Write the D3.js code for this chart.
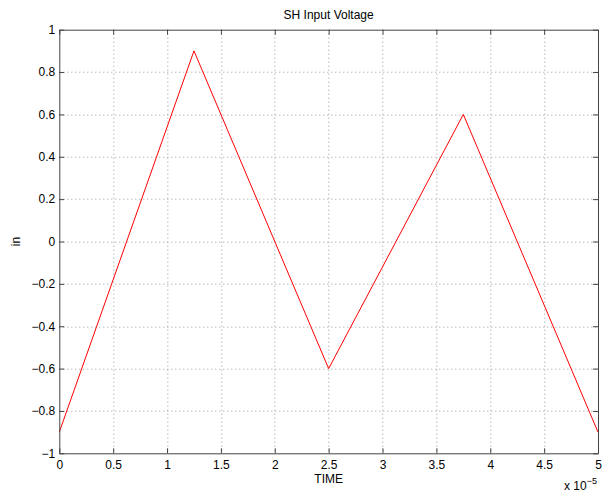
<!DOCTYPE html>
<html>
<head>
<meta charset="utf-8">
<script src="https://cdn.jsdelivr.net/npm/d3@7"></script>
<style>
body { margin: 0; background: #fff; }
text { font-family: "Liberation Sans", Arial, sans-serif; font-size: 12px; fill: #000; }
</style>
</head>
<body>
<div id="chart"></div>
<script>
// sample times (in units of 1e-5 s) and input voltage
var time = [0, 1.25, 2.5, 3.75, 5];
var volts = [-0.9, 0.9, -0.6, 0.6, -0.9];
var xTicks = [0, 0.5, 1, 1.5, 2, 2.5, 3, 3.5, 4, 4.5, 5];
var yTicks = [-1, -0.8, -0.6, -0.4, -0.2, 0, 0.2, 0.4, 0.6, 0.8, 1];

var W = 606, H = 493;
var margin = {top: 29.7, right: 8, bottom: 39.7, left: 59.3},
    width = W - margin.left - margin.right,
    height = H - margin.top - margin.bottom;

var svg = d3.select("#chart").append("svg")
    .attr("width", W)
    .attr("height", H);

var g = svg.append("g")
    .attr("transform", "translate(" + margin.left + "," + margin.top + ")");

var x = d3.scaleLinear().domain([0, 5]).range([0, width]);
var y = d3.scaleLinear().domain([-1, 1]).range([height, 0]);

// grid
g.append("g").selectAll("line")
    .data(xTicks.slice(1, -1))
    .enter().append("line")
    .attr("x1", function(d) { return Math.round(x(d)) + 0.5; })
    .attr("x2", function(d) { return Math.round(x(d)) + 0.5; })
    .attr("y1", 0).attr("y2", height)
    .attr("stroke", "#9a9a9a").attr("stroke-dasharray", "1,3");
g.append("g").selectAll("line")
    .data(yTicks.slice(1, -1))
    .enter().append("line")
    .attr("y1", function(d) { return Math.round(y(d)) + 0.5; })
    .attr("y2", function(d) { return Math.round(y(d)) + 0.5; })
    .attr("x1", 0).attr("x2", width)
    .attr("stroke", "#9a9a9a").attr("stroke-dasharray", "1,3");

// data line
var line = d3.line()
    .x(function(d, i) { return x(time[i]); })
    .y(function(d) { return y(d); });
g.append("path")
    .datum(volts)
    .attr("d", line)
    .attr("fill", "none")
    .attr("stroke", "#ff0000")
    .attr("stroke-width", 1);

function fmt(d) { return d < 0 ? "\u2212" + (-d) : String(d); }

// axes (ticks inward, matlab style)
var ax = d3.axisBottom(x).tickValues(xTicks).tickSizeInner(-5).tickSizeOuter(0).tickPadding(7).tickFormat(fmt);
var ay = d3.axisLeft(y).tickValues(yTicks).tickSizeInner(-5).tickSizeOuter(0).tickPadding(4).tickFormat(fmt);
var axTop = d3.axisTop(x).tickValues(xTicks).tickSizeInner(-5).tickSizeOuter(0).tickFormat("");
var ayRight = d3.axisRight(y).tickValues(yTicks).tickSizeInner(-5).tickSizeOuter(0).tickFormat("");

function style(sel) {
  sel.select(".domain").attr("stroke", "#444");
  sel.selectAll(".tick line").attr("stroke", "#444");
  sel.selectAll("text").attr("font-size", 12).attr("font-family", "Liberation Sans, Arial, sans-serif").attr("fill", "#000");
}

g.append("g").attr("transform", "translate(0," + height + ")").call(ax).call(style);
g.append("g").call(ay).call(style);
g.append("g").call(axTop).call(style);
g.append("g").attr("transform", "translate(" + width + ",0)").call(ayRight).call(style);

// labels
svg.append("text")
    .attr("x", margin.left + width / 2).attr("y", 19)
    .attr("text-anchor", "middle")
    .text("SH Input Voltage");
svg.append("text")
    .attr("x", margin.left + width / 2).attr("y", 483)
    .attr("text-anchor", "middle")
    .text("TIME");
svg.append("text")
    .attr("transform", "translate(20," + (margin.top + height / 2) + ") rotate(-90)")
    .attr("text-anchor", "middle")
    .text("in");
var ex = svg.append("text")
    .attr("x", 564).attr("y", 490);
ex.append("tspan").text("x 10");
ex.append("tspan").attr("dy", -6).attr("font-size", 9).text("\u22125");
</script>
</body>
</html>
